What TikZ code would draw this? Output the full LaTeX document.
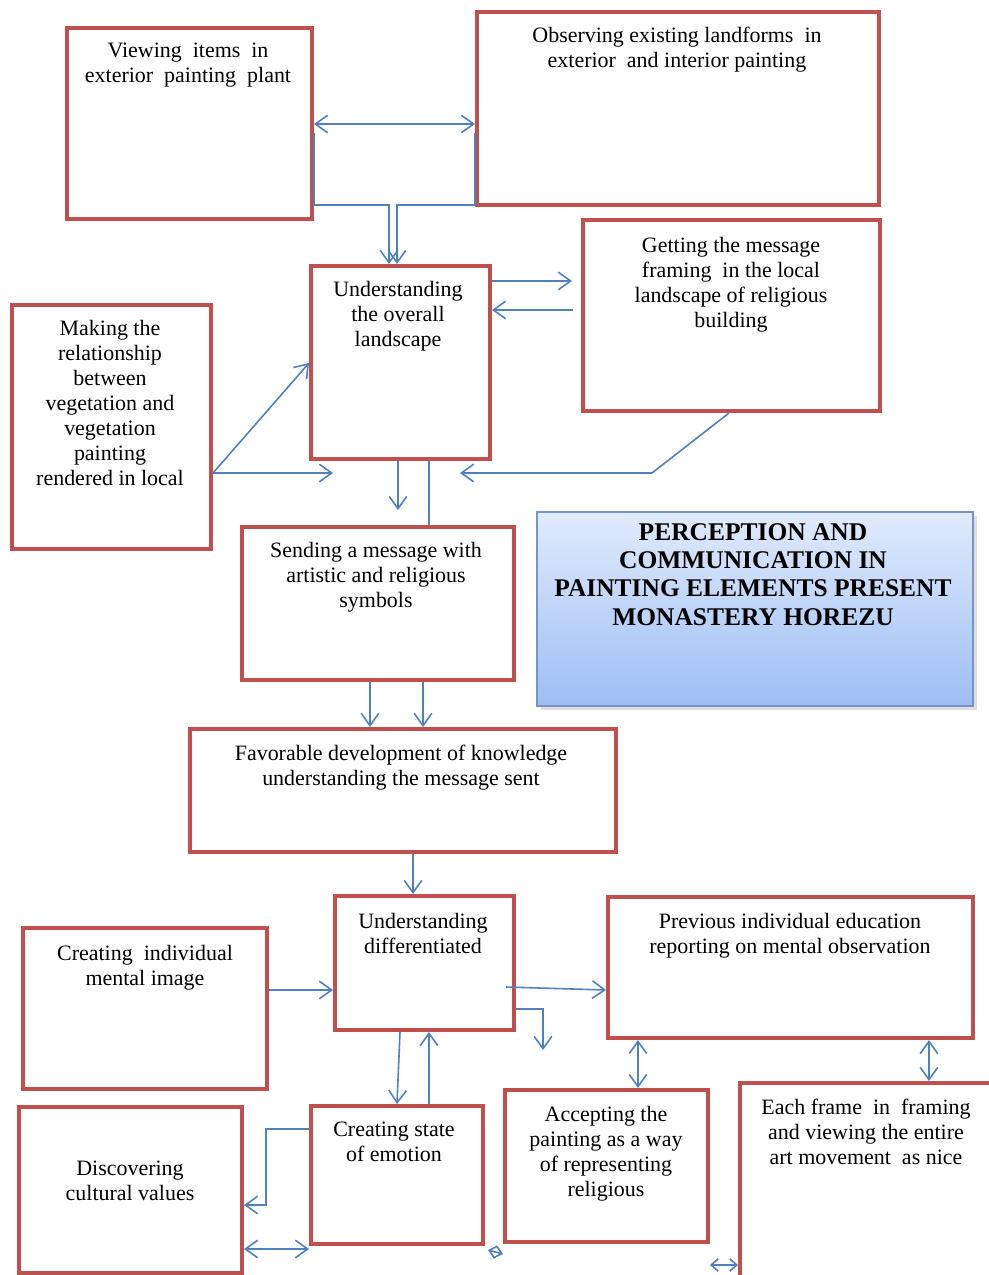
\documentclass[tikz,border=0pt]{standalone}
\usepackage{fontspec}
\setmainfont{Liberation Serif}[BoldFont={Liberation Serif Bold}]
\usetikzlibrary{arrows.meta,positioning,fit,shadows}
\definecolor{boxred}{RGB}{192,80,77}
\definecolor{linkblue}{RGB}{79,129,189}
\definecolor{titletop}{RGB}{224,235,252}
\definecolor{titlebot}{RGB}{158,190,243}
\definecolor{titleline}{RGB}{118,148,198}
\tikzset{
  box/.style={draw=boxred, line width=2.3pt, inner sep=0pt, fill=white},
  txt/.style={align=center, inner sep=0pt, anchor=north, font=\fontsize{12.5}{14.2}\selectfont},
  link/.style={draw=linkblue, line width=0.9pt},
  arr/.style={link, -{Straight Barb[length=7pt,width=10pt]}},
  dbl/.style={link, {Straight Barb[length=7pt,width=10pt]}-{Straight Barb[length=7pt,width=10pt]}},
  tiny/.style={link, {Straight Barb[length=4pt,width=7pt]}-{Straight Barb[length=4pt,width=7pt]}},
}

\begin{document}
\begin{tikzpicture}[x=0.02cm,y=-0.02cm]
\useasboundingbox[fill=white] (0,0) rectangle (988,1275);

\node[box, fit={(67,28) (312,219)}] (view) {};
\node[box, fit={(477,12) (879,205)}] (obs) {};
\node[box, fit={(311,266) (490,459)}] (over) {};
\node[box, fit={(583,220) (880,411)}] (get) {};
\node[box, fit={(12,305) (211,549)}] (make) {};
\node[box, fit={(242,527) (514,680)}] (send) {};
\node[draw=titleline, line width=0.8pt, inner sep=0pt, top color=titletop, bottom color=titlebot,
      drop shadow={opacity=0.25, shadow xshift=2pt, shadow yshift=-2pt}, fit={(537,512) (973,706)}] (title) {};
\node[box, fit={(190,729) (616,852)}] (fav) {};
\node[box, fit={(335,896) (514,1030)}] (diff) {};
\node[box, fit={(23,928) (267,1089)}] (image) {};
\node[box, fit={(608,897) (973,1038)}] (prev) {};
\node[box, fit={(19,1107) (242,1273)}] (disc) {};
\node[box, fit={(311,1106) (483,1244)}] (state) {};
\node[box, fit={(505,1090) (708,1242)}] (accept) {};
\node[box, fit={(740,1083) (1010,1300)}] (each) {};

\node[txt] (view-t) at (188,43) {Viewing~ items~ in\\exterior~ painting~ plant};
\node[txt] (obs-t) at (677,27) {Observing existing landforms~ in\\exterior~ and interior painting};
\node[txt] (over-t) at (398,281) {Understanding\\the overall\\landscape};
\node[txt] (get-t) at (731,237) {Getting the message\\framing~ in the local\\landscape of religious\\building};
\node[txt] (make-t) at (110,320) {Making the\\relationship\\between\\vegetation and\\vegetation\\painting\\rendered in local};
\node[txt] (send-t) at (376,542) {Sending a message with\\artistic and religious\\symbols};
\node[txt, font=\bfseries\fontsize{14.5}{16.1}\selectfont] (title-t) at (753,523) {PERCEPTION AND\\COMMUNICATION IN\\PAINTING ELEMENTS PRESENT\\MONASTERY HOREZU};
\node[txt] (fav-t) at (401,745) {Favorable development of knowledge\\understanding the message sent};
\node[txt] (diff-t) at (423,913) {Understanding\\differentiated};
\node[txt] (image-t) at (145,945) {Creating~ individual\\mental image};
\node[txt] (prev-t) at (790,913) {Previous individual education\\reporting on mental observation};
\node[txt] (disc-t) at (130,1161) {Discovering\\cultural values};
\node[txt] (state-t) at (394,1122) {Creating state\\of emotion};
\node[txt] (accept-t) at (606,1106) {Accepting the\\painting as a way\\of representing\\religious};
\node[txt] (each-t) at (866,1099) {Each frame~ in~ framing\\and viewing the entire\\art movement~ as nice};

\coordinate (joinL) at (389,205);
\coordinate (joinR) at (397,205);
\coordinate (backEnd) at (460,473);
\coordinate (backBend) at (652,473);
\coordinate (makeEnd) at (333,473);
\coordinate (overEnd) at (398,510);
\coordinate (diffBend) at (543,1009);
\coordinate (diffEnd) at (543,1050);
\coordinate (discBend) at (266,1205);
\coordinate (eachEnd) at (710,1265);

\draw[dbl] (view.east |- 0,124) -- (obs.west |- 0,124);
\draw[arr] (view.east |- 0,133) |- (joinL) -- (joinL |- over.north);
\draw[arr] (obs.west |- 0,133) |- (joinR) -- (joinR |- over.north);
\draw[arr, shorten >=0.18cm] (over.east |- 0,281) -- (get.west |- 0,281);
\draw[arr, shorten <=0.16cm] (get.west |- 0,310) -- (over.east |- 0,310);
\draw[arr] (get.south -| 729,0) -- (backBend) -- (backEnd);
\draw[arr] (make.east |- 0,473) -- (over.west |- 0,363);
\draw[arr] (make.east |- 0,473) -- (makeEnd);
\draw[arr] (over.south -| overEnd) -- (overEnd);
\draw[link] (over.south -| 429,0) -- (send.north -| 429,0);
\draw[arr] (send.south -| 370,0) -- (fav.north -| 370,0);
\draw[arr] (send.south -| 423,0) -- (fav.north -| 423,0);
\draw[arr] (fav.south -| 413,0) -- (diff.north -| 413,0);
\draw[arr] (image.east |- 0,990) -- (diff.west |- 0,990);
\draw[arr] (506,987) -- (prev.west |- 0,990);
\draw[arr] (diff.east |- diffBend) -- (diffBend) -- (diffEnd);
\draw[arr] (diff.south -| 400,0) -- (state.north -| 397,0);
\draw[arr] (state.north -| 429,0) -- (diff.south -| 429,0);
\draw[dbl] (prev.south -| 638,0) -- (accept.north -| 638,0);
\draw[dbl] (prev.south -| 929,0) -- (each.north -| 929,0);
\draw[arr] (state.west |- 0,1129) -| (discBend) -- (disc.east |- discBend);
\draw[dbl] (disc.east |- 0,1249) -- (state.west |- 0,1249);
\draw[tiny] (state.south east) ++(3,4) -- (accept.south west |- 0,1254);
\draw[tiny] (eachEnd) -- (each.west |- eachEnd);
\end{tikzpicture}
\end{document}
